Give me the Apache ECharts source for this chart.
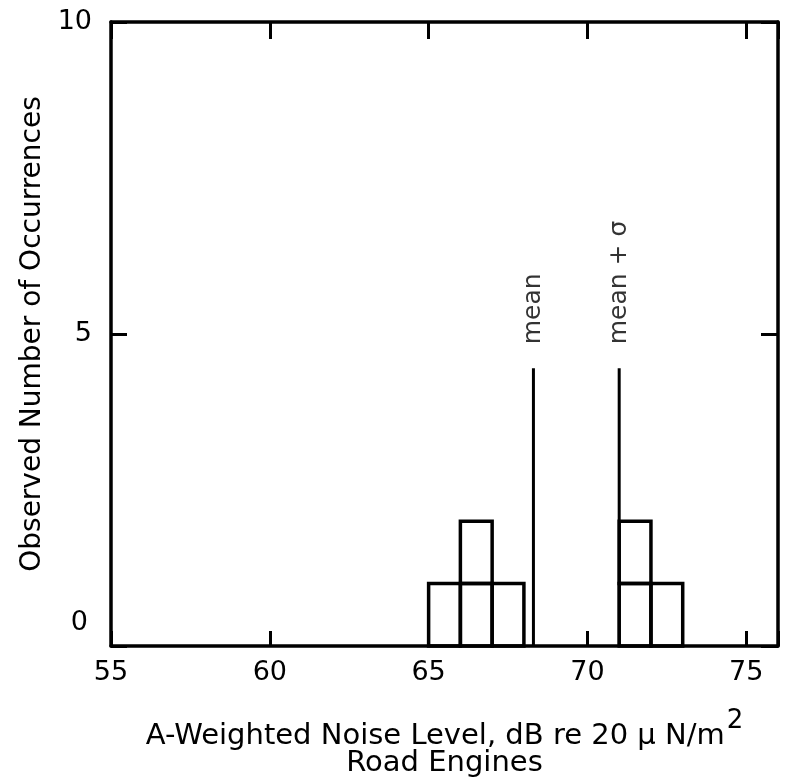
<!DOCTYPE html>
<html>
<head>
<meta charset="utf-8">
<script src="https://cdn.jsdelivr.net/npm/echarts@6/dist/echarts.min.js"></script>
<style>html,body{margin:0;padding:0;background:#fff;overflow:hidden;}#c{width:785px;height:783px;}</style>
</head>
<body>
<div id="c"></div>
<script>
// ---- data ----
const binStarts = [65, 66, 67, 71, 72];
const binEnds   = [66, 67, 68, 72, 73];
const counts    = [1, 2, 1, 2, 1];
const refNames  = ['mean', 'mean + σ'];
const refX      = [68.3, 71.0];
const refTop    = [4.45, 4.45];
const xTickLabels = [55, 60, 65, 70, 75];
const yTickLabels = [0, 5, 10];
const xName1 = 'A-Weighted Noise Level, dB re 20 μ N/m';
const xName2 = 'Road Engines';
const yName = 'Observed Number of Occurrences';

const FONT = 'DejaVu Sans';
const chart = echarts.init(document.getElementById('c'), null, {renderer: 'canvas'});

const binData = binStarts.map((s, i) => [s, binEnds[i], counts[i]]);

const baseX = {
  type: 'value', min: 55, max: 76, interval: 5,
  axisLine: {show: true, onZero: false, lineStyle: {color: '#000', width: 3.5}},
  axisTick: {show: true, inside: true, length: 15, lineStyle: {color: '#000', width: 3}},
  splitLine: {show: false}
};
const baseY = {
  type: 'value', min: 0, max: 10, interval: 5,
  axisLine: {show: true, onZero: false, lineStyle: {color: '#000', width: 3.5}},
  axisTick: {show: true, inside: true, length: 16, lineStyle: {color: '#000', width: 3}},
  splitLine: {show: false}
};

const series = [{
  type: 'custom',
  xAxisIndex: 0, yAxisIndex: 0,
  data: binData,
  renderItem: function (params, api) {
    const s = api.value(0), e = api.value(1), c = api.value(2);
    const children = [];
    for (let k = 0; k < c; k++) {
      const p0 = api.coord([s, k + 1]);
      const p1 = api.coord([e, k]);
      children.push({
        type: 'rect',
        shape: {x: p0[0], y: p0[1], width: p1[0] - p0[0], height: p1[1] - p0[1]},
        style: {fill: 'none', stroke: '#000', lineWidth: 3.5}
      });
    }
    return {type: 'group', children: children};
  },
  encode: {x: [0, 1], y: 2},
  silent: true
}];

refX.forEach((x, i) => {
  series.push({
    type: 'line', xAxisIndex: 0, yAxisIndex: 0,
    data: [[x, 0], [x, refTop[i]]],
    symbol: 'none', silent: true,
    lineStyle: {color: '#000', width: 3}
  });
  series.push({
    type: 'scatter', xAxisIndex: 0, yAxisIndex: 0,
    data: [[x, refTop[i]]],
    symbolSize: 0, silent: true,
    label: {
      show: true, position: 'top', distance: 24, rotate: 90,
      align: 'left', verticalAlign: 'middle',
      formatter: refNames[i], color: '#000', fontFamily: FONT, fontSize: 25
    }
  });
});

chart.setOption({
  animation: false,
  backgroundColor: '#fff',
  grid: {left: 111, top: 22, right: 7, bottom: 133, containLabel: false},
  xAxis: [
    Object.assign({}, baseX, {
      position: 'bottom',
      axisLabel: {
        show: true, color: '#000', fontFamily: FONT, fontSize: 27, margin: 13,
        formatter: v => (xTickLabels.indexOf(v) >= 0 ? String(v) : '')
      },
      name: xName1 + '{sup|2}\n' + xName2,
      nameLocation: 'middle', nameGap: 77,
      nameTextStyle: {
        color: '#000', fontFamily: FONT, fontSize: 29, lineHeight: 27,
        rich: {sup: {fontFamily: FONT, fontSize: 26, color: '#000', padding: [0, 0, 30, 2], lineHeight: 27}}
      }
    }),
    Object.assign({}, baseX, {
      position: 'top',
      axisTick: {show: true, inside: true, length: 17, lineStyle: {color: '#000', width: 3}},
      axisLabel: {show: false}
    })
  ],
  yAxis: [
    Object.assign({}, baseY, {
      position: 'left',
      axisLabel: {
        show: true, color: '#000', fontFamily: FONT, fontSize: 27, margin: 19,
        formatter: v => (v === 0 ? '{z|0}' : (yTickLabels.indexOf(v) >= 0 ? String(v) : '')),
        rich: {z: {fontFamily: FONT, fontSize: 27, color: '#000', padding: [0, 4, 46, 0]}}
      },
      name: yName, nameLocation: 'middle', nameGap: 64,
      nameTextStyle: {color: '#000', fontFamily: FONT, fontSize: 28}
    }),
    Object.assign({}, baseY, {
      position: 'right',
      axisTick: {show: true, inside: true, length: 17, lineStyle: {color: '#000', width: 3}},
      axisLabel: {show: false}
    })
  ],
  series: series
});
</script>
</body>
</html>
